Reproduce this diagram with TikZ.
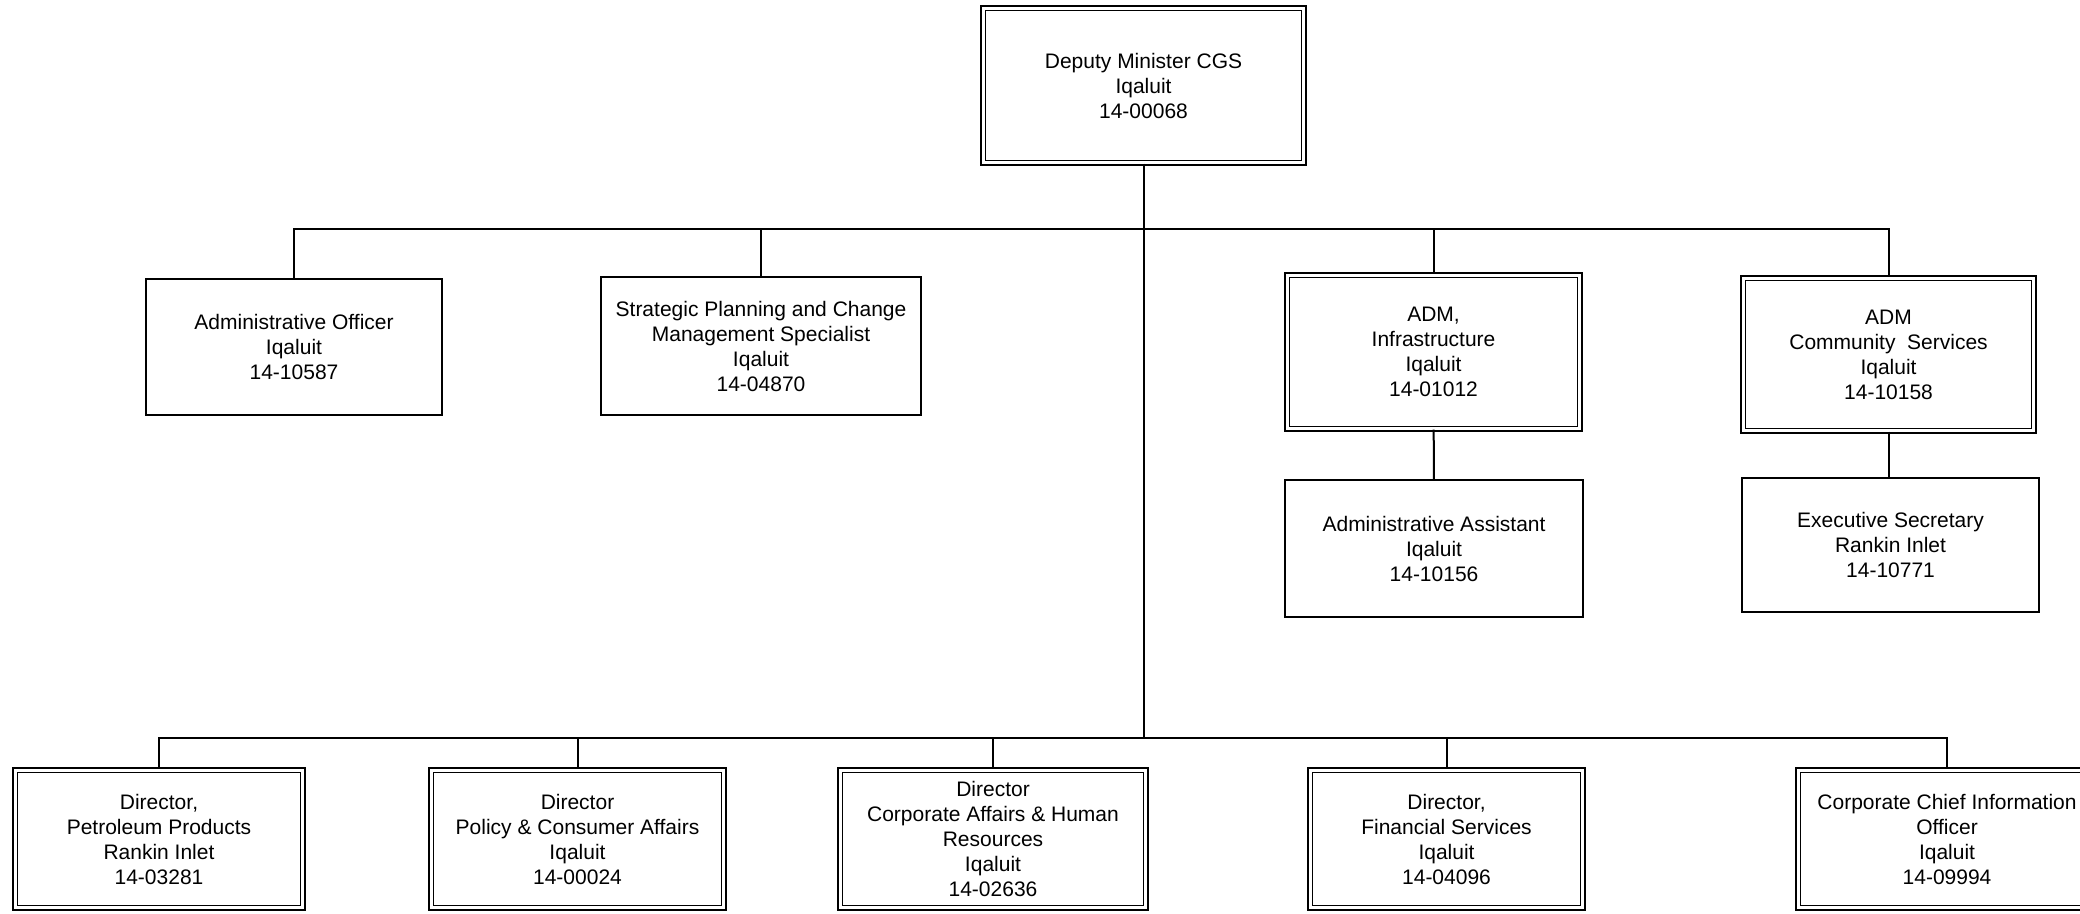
\documentclass[tikz,border=0pt]{standalone}
\usepackage{fontspec}
\setmainfont{Liberation Sans}
\usepackage{tikz}

\begin{document}
\begin{tikzpicture}[x=0.5pt, y=-0.5pt]
		\tikzstyle {post} = [draw, rectangle, line width=0.9pt, inner sep=0pt, align=center, font=\fontsize{10.5}{12.5}\selectfont]
		\tikzstyle {head post} = [post, double, line width=0.8pt, double distance=1.6pt]
		\tikzstyle {link} = [line width=1pt]

		\fill[white] (0,0) rectangle (2080,914);
		\useasboundingbox (0,0) rectangle (2080,914);
		\clip (0,0) rectangle (2080,914);

		% deputy minister
		\node[head post, minimum width=160.3pt, minimum height=77.3pt] (dm) at (1143.5,85.5) {Deputy Minister CGS\\Iqaluit\\14-00068};

		\coordinate (ub) at (1143.5,229.5);
		\coordinate (lb) at (1143.5,737.5);

		% upper row
		\node[post, minimum width=148pt, minimum height=68pt] (ao) at (294,347) {Administrative Officer\\Iqaluit\\14-10587};
		\node[post, minimum width=160pt, minimum height=69pt] (sp) at (761,346) {Strategic Planning and Change\\Management Specialist\\Iqaluit\\14-04870};
		\node[head post, minimum width=146.3pt, minimum height=76.8pt] (adi) at (1433.5,352) {ADM,\\Infrastructure\\Iqaluit\\14-01012};
		\node[head post, minimum width=145.3pt, minimum height=76.3pt] (adc) at (1888.5,354.5) {ADM\\Community~ Services\\Iqaluit\\14-10158};
		\node[post, minimum width=149pt, minimum height=68.5pt] (aa) at (1434,548.5) {Administrative Assistant\\Iqaluit\\14-10156};
		\node[post, minimum width=148.5pt, minimum height=67pt] (es) at (1890.5,545) {Executive Secretary\\Rankin Inlet\\14-10771};

		% directors
		\node[head post, minimum width=143.8pt, minimum height=68.8pt] (pp) at (159,839) {Director,\\Petroleum Products\\Rankin Inlet\\14-03281};
		\node[head post, minimum width=146.3pt, minimum height=68.8pt] (pc) at (577.5,839) {Director\\Policy \& Consumer Affairs\\Iqaluit\\14-00024};
		\node[head post, minimum width=152.8pt, minimum height=68.8pt] (ca) at (993,839) {Director\\Corporate Affairs \& Human\\Resources\\Iqaluit\\14-02636};
		\node[head post, minimum width=136.3pt, minimum height=68.8pt] (fs) at (1446.5,839) {Director,\\Financial Services\\Iqaluit\\14-04096};
		\node[head post, minimum width=148.8pt, minimum height=68.8pt] (cio) at (1947,839) {Corporate Chief Information\\Officer\\Iqaluit\\14-09994};

		% lines
		\draw[link] (dm) -- (lb);
		\draw[link] (ub) -| (ao);
		\draw[link] (ub) -| (sp);
		\draw[link] (ub) -| (adi);
		\draw[link] (ub) -| (adc);
		\draw[link] (adi) -- (aa);
		\draw[link] (adc) -- (adc |- es.north);
		\draw[link] (lb) -| (pp);
		\draw[link] (lb) -| (pc);
		\draw[link] (lb) -| (ca);
		\draw[link] (lb) -| (fs);
		\draw[link] (lb) -| (cio);
	\end{tikzpicture}
\end{document}
